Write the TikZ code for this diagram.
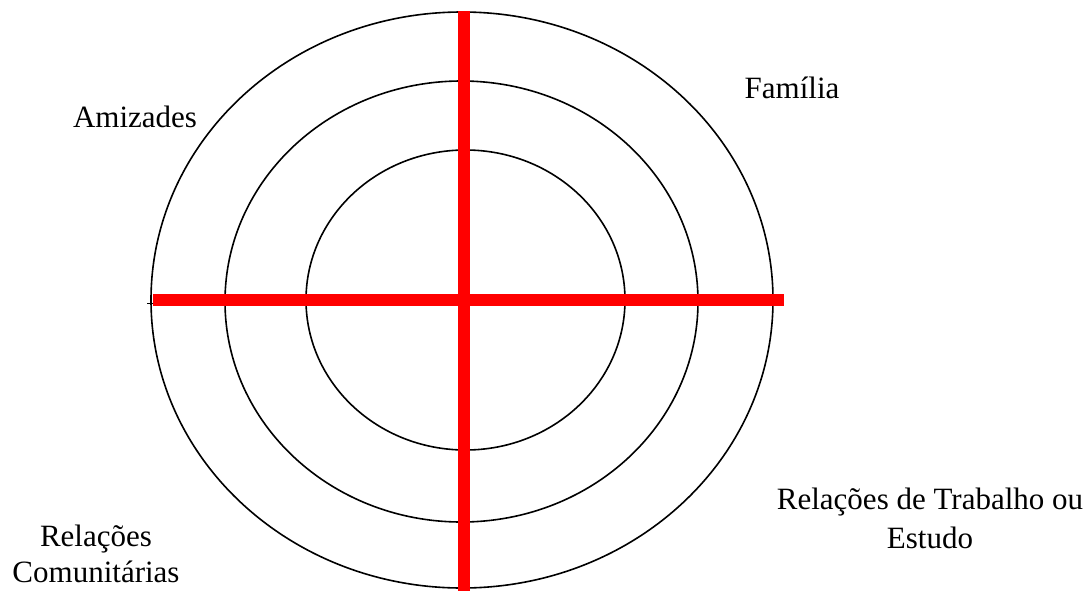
\documentclass[tikz,border=0pt]{standalone}
\usepackage{fontspec}
\setmainfont{Liberation Serif}
\begin{document}
\begin{tikzpicture}[x=1pt,y=-1pt,
  ring/.style={draw=black,line width=1.6pt},
  axis/.style={draw=red,line width=12pt},
  lbl/.style={font=\fontsize{31}{36}\selectfont,inner sep=0pt,align=center,anchor=base}]
\useasboundingbox (0,0) rectangle (1092,590);
\begin{scope}
\clip (0,0) rectangle (1092,590);
\draw[ring] (462,300) ellipse [x radius=311, y radius=288];
\draw[ring] (461.5,301.5) ellipse [x radius=236.5, y radius=220.5];
\draw[ring] (465.5,300) ellipse [x radius=159.5, y radius=150];
\coordinate (tickL) at (147,303);
\coordinate (tickR) at (154,303);
\draw[line width=1pt] (tickL) -- (tickR);
\coordinate (hL) at (153,300);
\coordinate (hR) at (784,300);
\coordinate (vT) at (464,11);
\coordinate (vB) at (464,600);
\draw[axis] (hL) -- (hR);
\draw[axis] (vT) -- (vB);
\end{scope}
\node[lbl] (amiz) at (135,127) {Amizades};
\node[lbl] (fam) at (792,98) {Família};
\node[lbl,font=\fontsize{31}{36}\selectfont] (com) at (96,582) {Relações\\Comunitárias};
\node[lbl,font=\fontsize{31}{39}\selectfont] (trab) at (930,548) {Relações de Trabalho ou\\Estudo};
\end{tikzpicture}
\end{document}
